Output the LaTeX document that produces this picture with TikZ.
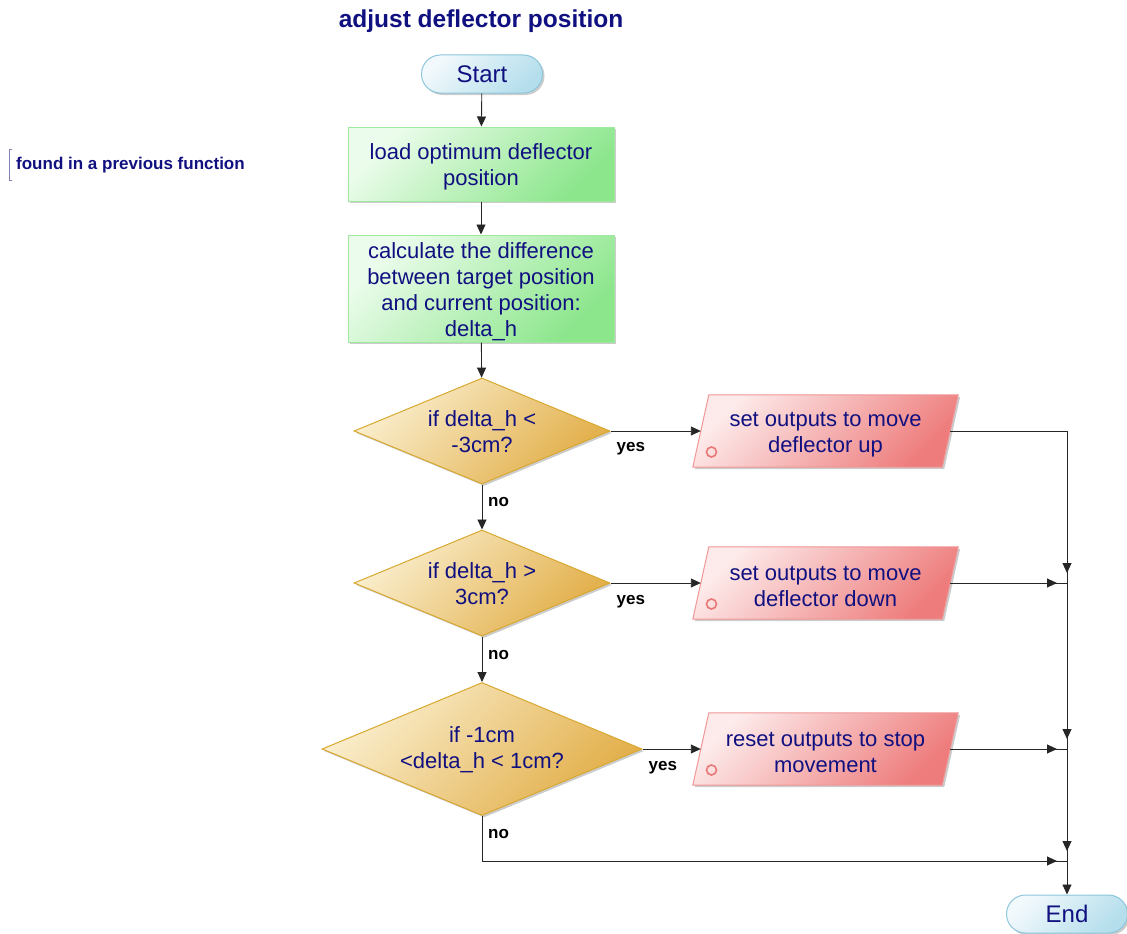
\documentclass[tikz,border=0pt]{standalone}
\usepackage{fontspec}
\setmainfont{Liberation Sans}
\usetikzlibrary{shapes.geometric,arrows.meta,shadows,calc}

\definecolor{ink}{RGB}{16,16,128}
\definecolor{termA}{RGB}{242,249,252}
\definecolor{termB}{RGB}{180,222,236}
\definecolor{termLine}{RGB}{140,198,220}
\definecolor{procA}{RGB}{236,252,236}
\definecolor{procB}{RGB}{140,230,140}
\definecolor{procLine}{RGB}{160,232,160}
\definecolor{decA}{RGB}{250,238,205}
\definecolor{decB}{RGB}{226,174,72}
\definecolor{decLine}{RGB}{216,168,48}
\definecolor{ioA}{RGB}{253,234,234}
\definecolor{ioB}{RGB}{238,124,124}
\definecolor{ioLine}{RGB}{240,150,150}
\definecolor{ringLine}{RGB}{232,120,120}
\definecolor{noteLine}{RGB}{130,130,180}

\begin{document}
\begin{tikzpicture}[x=1pt,y=-1pt,
  every node/.style={text=ink, font=\fontsize{22}{26}\selectfont, align=center, inner sep=0pt},
  softshadow/.style={drop shadow={shadow xshift=2pt, shadow yshift=-2pt, fill=black!40, opacity=0.5}},
  terminal/.style={rectangle, rounded corners=19pt, minimum width=121pt, minimum height=38pt,
    draw=termLine, line width=1pt, top color=termA, bottom color=termB, shading angle=45,
    softshadow, font=\fontsize{24}{28}\selectfont},
  process/.style={rectangle, minimum width=266pt, draw=procLine, line width=1pt,
    top color=procA, bottom color=procB, shading angle=45, softshadow},
  decision/.style={diamond, aspect=2.4, draw=decLine, line width=1pt,
    top color=decA, bottom color=decB, shading angle=45, softshadow},
  % the action box: an invisible frame whose side midpoints sit on the slanted edges
  iobox/.style={rectangle, minimum width=249pt, minimum height=72pt},
  ioshape/.style={draw=ioLine, line width=1pt, top color=ioA, bottom color=ioB,
    shading angle=45, softshadow},
  caption/.style={yshift=-#1},
  caption/.default=3pt,
  ioring/.style={circle, draw=ringLine, line width=1.6pt, minimum size=10pt},
  lbl/.style={text=black, font=\bfseries\fontsize{17}{20}\selectfont, anchor=west},
  wire/.style={draw=black!85, line width=0.9pt},
  flow/.style={wire, -{Triangle[length=10pt,width=9pt]}},
  joinflow/.style={flow, shorten >=10pt},
]
\useasboundingbox (0,0) rectangle (1127,934);

% heading and side note
\node[font=\bfseries\fontsize{24.5}{28}\selectfont] (title) at (481,21) {adjust deflector position};
\node[font=\bfseries\fontsize{17}{20}\selectfont, anchor=west] (note) at (16,165) {found in a previous function};
\draw[noteLine, line width=1pt] ($(note.west)+(-4,-16)$) coordinate (nb1) -- ++(-3,0) -- ++(0,31) -- ++(3,0) coordinate (nb2);

% main column shapes
\node[terminal] (start) at (482,74) {Start};
\node[process, minimum height=74pt] (load) at (481,164) {};
\node[process, minimum height=107pt] (diff) at (481,288.5) {};
\node[decision, minimum width=256pt, minimum height=106pt] (d1) at (482,431) {};
\node[decision, minimum width=256pt, minimum height=106pt] (d2) at (482,583) {};
\node[decision, minimum width=320pt, minimum height=133pt] (d3) at (482,749) {};

% action shapes (parallelograms with a small ring in the lower left)
\node[iobox] (up) at (825.5,431) {};
\node[iobox] (down) at (825.5,583) {};
\node[iobox] (stop) at (825.5,749) {};
\foreach \n in {up,down,stop}{
  \path[ioshape] ($(\n.south west)+(-8,0)$) -- ($(\n.north west)+(8,0)$)
    -- ($(\n.north east)+(8,0)$) -- ($(\n.south east)+(-8,0)$) -- cycle;
  \path ($(\n.center)+(-114,21)$) node[ioring] (\n ring) {};
}

\node[terminal] (end) at (1067,914) {End};

% texts inside the shapes
\node[caption] (loadtxt) at (load) {load optimum deflector\\position};
\node[caption] (difftxt) at (diff) {calculate the difference\\between target position\\and current position:\\delta\_h};
\node[caption=1pt] (d1txt) at (d1) {if delta\_h <\\-3cm?};
\node[caption=1pt] (d2txt) at (d2) {if delta\_h >\\3cm?};
\node[caption=1pt] (d3txt) at (d3) {if -1cm\\<delta\_h < 1cm?};
\node[caption=3.5pt] (uptxt) at (up) {set outputs to move\\deflector up};
\node[caption=3.5pt] (downtxt) at (down) {set outputs to move\\deflector down};
\node[caption=3.5pt] (stoptxt) at (stop) {reset outputs to stop\\movement};

% merge points on the right
\coordinate (j1) at (1067,583);
\coordinate (j2) at (1067,749);
\coordinate (j3) at (1067,861);

% connectors
\draw[flow] (start) -- (load);
\draw[flow] (load) -- (diff);
\draw[flow] (diff) -- (d1);
\draw[flow] (d1) -- (d2);
\draw[flow] (d2) -- (d3);
\draw[flow] (d1.east) -- (up.west);
\draw[flow] (d2.east) -- (down.west);
\draw[flow] (d3.east) -- (stop.west);

% return lines: drawn through each merge point, tips set just before it
\draw[wire] (up.east) -| (j1) -- (j2) -- (j3);
\draw[wire] (down.east) -- (j1);
\draw[wire] (stop.east) -- (j2);
\draw[wire] (d3.south) |- (j3);
\draw[joinflow] (up.east) -| (j1);
\draw[joinflow] (down.east) -- (j1);
\draw[joinflow] (j1) -- (j2);
\draw[joinflow] (stop.east) -- (j2);
\draw[joinflow] (j2) -- (j3);
\draw[joinflow] (d3.south) |- (j3);
\draw[flow] (j3) -- (end);

% branch labels
\node[lbl] (y1) at ($(d1.east)+(6,18)$) {yes};
\node[lbl] (y2) at ($(d2.east)+(6,19)$) {yes};
\node[lbl] (y3) at ($(d3.east)+(6,19)$) {yes};
\node[lbl] (n1) at ($(d1.south)+(6,17)$) {no};
\node[lbl] (n2) at ($(d2.south)+(6,18)$) {no};
\node[lbl] (n3) at ($(d3.south)+(6,18)$) {no};
\end{tikzpicture}
\end{document}
